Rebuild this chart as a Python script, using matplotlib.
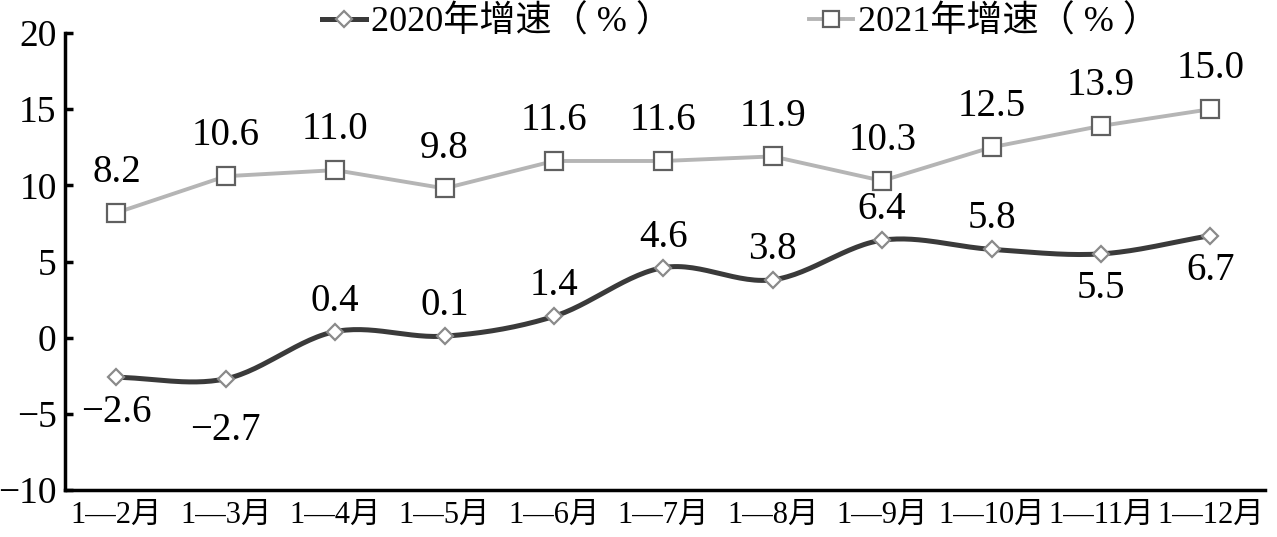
import numpy as np
import matplotlib
matplotlib.use("Agg")
import matplotlib.pyplot as plt

categories = ["1—2月", "1—3月", "1—4月", "1—5月", "1—6月", "1—7月",
              "1—8月", "1—9月", "1—10月", "1—11月", "1—12月"]
growth_2020 = [-2.6, -2.7, 0.4, 0.1, 1.4, 4.6, 3.8, 6.4, 5.8, 5.5, 6.7]
growth_2021 = [8.2, 10.6, 11.0, 9.8, 11.6, 11.6, 11.9, 10.3, 12.5, 13.9, 15.0]
below_2020 = [True, True, False, False, False, False, False, False, False, True, True]
yticks = [-10, -5, 0, 5, 10, 15, 20]

plt.rcParams['font.family'] = ['Liberation Serif', 'Noto Sans CJK SC']
plt.rcParams['axes.unicode_minus'] = True

def smooth(xs, ys, n=30):
    xs = np.asarray(xs, float); ys = np.asarray(ys, float)
    m = np.zeros_like(ys)
    m[1:-1] = (ys[2:] - ys[:-2]) / 2.0
    m[0] = ys[1] - ys[0]; m[-1] = ys[-1] - ys[-2]
    ox, oy = [], []
    for i in range(len(xs) - 1):
        t = np.linspace(0, 1, n, endpoint=False)
        h00 = 2*t**3 - 3*t**2 + 1; h10 = t**3 - 2*t**2 + t
        h01 = -2*t**3 + 3*t**2; h11 = t**3 - t**2
        ox.extend(xs[i] + t*(xs[i+1]-xs[i]))
        oy.extend(h00*ys[i] + h10*m[i] + h01*ys[i+1] + h11*m[i+1])
    ox.append(xs[-1]); oy.append(ys[-1])
    return np.array(ox), np.array(oy)

def fmt(v):
    s = f"{abs(v):.1f}"
    return ("−" + s) if v < 0 else s

fig = plt.figure(figsize=(12.77, 5.37), dpi=100)
ax = fig.add_axes([0.0509, 0.0875, 0.9397, 0.851])
x = np.arange(len(categories))

sx, sy = smooth(x, growth_2020)
ax.plot(sx, sy, color='#3a3a3a', lw=3.6, zorder=3)
ax.plot(x, growth_2020, ls='none', marker='D', ms=8.5, mfc='white', mec='#8a8a8a', mew=1.6, zorder=4)
ax.plot(x, growth_2021, color='#b5b5b5', lw=2.8, marker='s', ms=13, mfc='white', mec='#606060', mew=1.6, zorder=4)

h1, = ax.plot([], [], color='#3a3a3a', lw=3.6, marker='D', ms=8.5, mfc='white', mec='#8a8a8a', mew=1.6)
h2, = ax.plot([], [], color='#b5b5b5', lw=2.8, marker='s', ms=11, mfc='white', mec='#606060', mew=1.6)
fig.legend([h1, h2], ["2020年增速（ % ）", "2021年增速（ % ）"], loc='center',
           bbox_to_anchor=(0.58, 0.958), ncol=2, frameon=False, fontsize=26,
           handlelength=1.2, handletextpad=0.15, columnspacing=3.8)

extra = {1: 12}
for i, (xi, v, b) in enumerate(zip(x, growth_2020, below_2020)):
    off = -(25 + extra.get(i, 0)) if b else 22
    ax.annotate(fmt(v), (xi, v), xytext=(0, off), textcoords='offset points',
                ha='center', va='center', fontsize=28)
for xi, v in zip(x, growth_2021):
    ax.annotate(fmt(v), (xi, v), xytext=(0, 29), textcoords='offset points',
                ha='center', va='center', fontsize=28)

ax.set_xlim(-0.47, 10.5)
ax.set_ylim(-10, 20)
ax.set_yticks(yticks)
ax.set_yticklabels([f"−{abs(t)}" if t < 0 else str(t) for t in yticks], fontsize=27)
ax.set_xticks(x)
ax.set_xticklabels(categories, fontsize=22)
ax.tick_params(axis='y', direction='in', length=6, width=2.5, pad=6)
ax.tick_params(axis='x', length=0, pad=8)
for s in ['top', 'right']:
    ax.spines[s].set_visible(False)
ax.spines['left'].set_linewidth(2.5)
ax.spines['bottom'].set_linewidth(2.5)

fig.savefig("out.png", dpi=100)
